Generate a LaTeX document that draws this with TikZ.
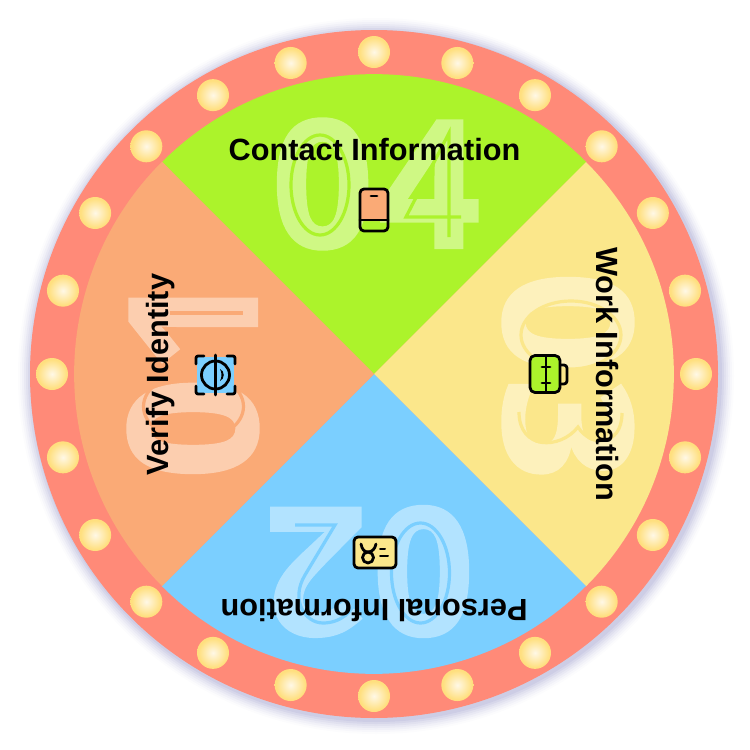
\documentclass[tikz,border=0pt]{standalone}
\usepackage{fontspec}
\usetikzlibrary{calc}
\setmainfont{Liberation Sans}
\newfontfamily\ghostfont[BoldFeatures={FakeBold=1.5,LetterSpace=3}]{Open Sans}
\definecolor{ringc}{RGB}{255,138,120}
\definecolor{greenc}{RGB}{172,243,43}
\definecolor{yellowc}{RGB}{251,231,139}
\definecolor{bluec}{RGB}{123,207,255}
\definecolor{orangec}{RGB}{250,170,118}
\definecolor{halo}{RGB}{90,90,170}
\definecolor{lampin}{RGB}{255,248,230}
\definecolor{lampout}{RGB}{255,223,126}
\pgfdeclareradialshading{lamp}{\pgfpoint{0bp}{0bp}}{color(0bp)=(lampin); color(23bp)=(lampout); color(50bp)=(lampout)}
\tikzset{
  ghost/.style={inner sep=0pt,outer sep=0pt,font=\ghostfont\bfseries\fontsize{178}{178}\selectfont},
  sectlabel/.style={inner sep=0pt,outer sep=0pt,anchor=base,text=black,font=\bfseries\fontsize{30.7}{31}\selectfont},
  iconline/.style={draw=black,line width=2.8pt,line cap=round,line join=round},
  lampdot/.style={shading=lamp},
}
\begin{document}
\begin{tikzpicture}[x=1pt,y=-1pt]
\useasboundingbox (0,0) rectangle (750,750);
\coordinate (c) at (374,374);
\coordinate (h) at (376,376);
% halo
\foreach \shr/\sho in {358/0.02,356/0.03,354/0.04,352/0.05,350/0.06,348/0.07,346/0.08} \fill[halo,opacity=\sho] (h) circle[radius=\shr];
\fill[ringc] (c) circle[radius=344];
% sectors
\fill[greenc] (c) -- (162,162) arc[start angle=225,end angle=315,radius=300] -- cycle;
\fill[yellowc] (c) -- (586,162) arc[start angle=315,end angle=405,radius=300] -- cycle;
\fill[bluec] (c) -- (586,586) arc[start angle=45,end angle=135,radius=300] -- cycle;
\fill[orangec] (c) -- (162,586) arc[start angle=135,end angle=225,radius=300] -- cycle;
% lamps
\foreach \ang in {0,15,...,345} \shade[lampdot] ($(c)+(\ang:322)$) circle[radius=16];
% ghost numbers
\node[ghost,text=greenc!58!white] (n04) at (376,184) {04};
\node[ghost,rotate=-90,text=yellowc!58!white] (n03) at (568,376) {03};
\node[ghost,rotate=180,text=bluec!58!white] (n02) at (370,571.5) {02};
\node[ghost,rotate=90,text=orangec!58!white] (n01) at (193,375) {01};
% inner lines of the numbers
\begin{scope}[line width=3.2pt]
\draw[greenc] (320,185) ellipse[x radius=29,y radius=50];
\draw[greenc,line join=miter] (461,217) -- (406,217) -- (449,133) -- (449,237);
\draw[yellowc] (571,335) ellipse[x radius=50,y radius=34];
\draw[yellowc] (519,412) .. controls (519,450) and (560,450) .. (578,427) .. controls (590,447) and (622,447) .. (622,413);
\draw[bluec] (420.5,573) ellipse[x radius=29,y radius=50];
\draw[bluec,line join=miter] (295,525) -- (335,525) -- (305,575) .. controls (290,600) and (305,623) .. (323,623) .. controls (340,623) and (354,612) .. (356,597);
\draw[orangec] (170,313) -- (243,313);
\draw[orangec] (193.5,406.5) ellipse[x radius=50,y radius=34];
\end{scope}
% labels
\node[sectlabel] (lab4) at (374.5,160) {Contact Information};
\node[sectlabel,rotate=-90] (lab3) at (596,374) {Work Information};
\node[sectlabel,rotate=180] (lab2) at (374,599) {Personal Information};
\node[sectlabel,rotate=90] (lab1) at (168,374.5) {Verify Identity};
% phone icon
\fill[orangec] (359,221) [rounded corners=4] -- (359,188) -- (388,188) [sharp corners] -- (388,221) -- cycle;
\draw[iconline,rounded corners=4] (360,189) rectangle (388,231);
\draw[iconline] (360,220) -- (388,220);
\draw[iconline] (371,196) -- (377,196);
% mug icon
\draw[iconline,rounded corners=3] (560,365) -- (567,365) -- (567,384) -- (560,384);
\draw[iconline,fill=greenc,rounded corners=5] (530,355.5) rectangle (560,392.5);
\draw[iconline] (546,355.5) -- (546,392.5);
\draw[iconline] (542,367) -- (550,367);
\draw[iconline] (542,383) -- (550,383);
% card icon
\draw[iconline,fill=yellowc,rounded corners=4] (354,537) rectangle (396,568);
\draw[iconline] (368,557.5) circle[radius=5.5];
\draw[iconline] (361,544) .. controls (362,549) and (364,552) .. (368,552) .. controls (372,552) and (375,549) .. (376,544);
\draw[iconline,line width=2pt] (380,549) -- (385,549);
\draw[iconline,line width=2pt] (380,556) -- (388,556);
% scan icon
\fill[bluec] (197,357) rectangle (234,393);
\draw[iconline,rounded corners=2] (196,364) -- (196,356) -- (204,356);
\draw[iconline,rounded corners=2] (227,356) -- (235,356) -- (235,364);
\draw[iconline,rounded corners=2] (235,386) -- (235,394) -- (227,394);
\draw[iconline,rounded corners=2] (204,394) -- (196,394) -- (196,386);
\draw[iconline] (215.5,375) circle[radius=14];
\draw[iconline] (215.5,355) -- (215.5,395);
\fill[black] (220,369) .. controls (225,371) and (225,379) .. (220,381) .. controls (222,377) and (222,373) .. (220,369) -- cycle;
\end{tikzpicture}
\end{document}
